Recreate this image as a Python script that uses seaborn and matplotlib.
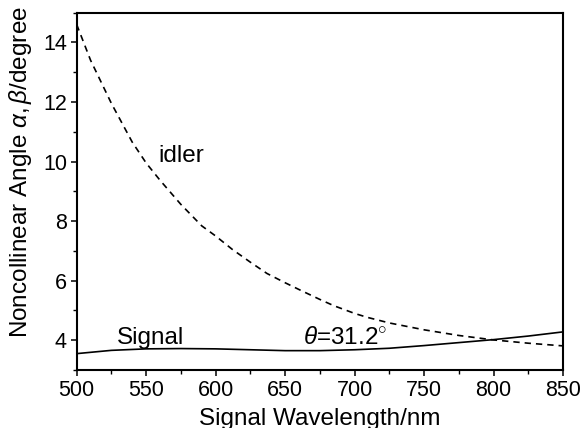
import matplotlib
matplotlib.use("Agg")
import matplotlib.pyplot as plt
import numpy as np
import pandas as pd
import seaborn as sns
from matplotlib.ticker import MultipleLocator

# values
signal_wl = [500, 525, 550, 575, 600, 625, 650, 675, 700, 725, 750, 775, 800, 825, 850]
signal_angle = [3.55, 3.66, 3.71, 3.72, 3.71, 3.68, 3.65, 3.65, 3.68, 3.73, 3.82, 3.92, 4.02, 4.14, 4.28]

idler_wl = [500, 510, 525, 540, 550, 560, 575, 590, 600, 612, 625, 637, 650, 661, 675, 685,
            700, 709, 725, 750, 775, 800, 825, 850]
idler_angle = [14.6, 13.4, 11.95, 10.65, 9.95, 9.37, 8.56, 7.84, 7.50, 7.05, 6.62, 6.24, 5.93, 5.68,
               5.37, 5.16, 4.90, 4.77, 4.58, 4.35, 4.16, 4.01, 3.90, 3.81]

sig = pd.DataFrame({"wl": signal_wl, "angle": signal_angle})
idl = pd.DataFrame({"wl": idler_wl, "angle": idler_angle})

sns.set_style("ticks")
plt.rcParams["font.family"] = ["Liberation Sans", "DejaVu Sans"]
plt.rcParams["mathtext.fontset"] = "custom"
plt.rcParams["mathtext.rm"] = "Liberation Sans"
plt.rcParams["mathtext.it"] = "Liberation Sans:italic"
plt.rcParams["text.color"] = "black"
plt.rcParams["axes.labelcolor"] = "black"
plt.rcParams["xtick.color"] = "black"
plt.rcParams["ytick.color"] = "black"
plt.rcParams["axes.edgecolor"] = "black"

fig = plt.figure(figsize=(5.81, 4.28), dpi=100)
ax = fig.add_axes([0.132, 0.1355, 0.837, 0.835])

sns.lineplot(data=sig, x="wl", y="angle", ax=ax, color="black", lw=1.2)
sns.lineplot(data=idl, x="wl", y="angle", ax=ax, color="black", lw=1.2,
             dashes=False, linestyle=(0, (3.8, 3)))

ax.set_xlim(500, 850)
ax.set_ylim(3, 15)
ax.xaxis.set_major_locator(MultipleLocator(50))
ax.xaxis.set_minor_locator(MultipleLocator(25))
ax.yaxis.set_minor_locator(MultipleLocator(1))
ax.set_yticks([4, 6, 8, 10, 12, 14])

ax.tick_params(which="major", direction="out", length=4, width=1.1, labelsize=15.5, pad=3,
               top=False, right=False)
ax.tick_params(which="minor", direction="out", length=3, width=1.0, top=False, right=False)
for s in ax.spines.values():
    s.set_linewidth(1.5)
    s.set_visible(True)

ax.set_xlabel("Signal Wavelength/nm", fontsize=17.5)
ax.set_ylabel(r"Noncollinear Angle $\alpha,\beta$/degree", fontsize=17.5)
ax.xaxis.set_label_coords(0.5, -0.105)
ax.yaxis.set_label_coords(-0.088, 0.555)

ax.text(575, 10.2, "idler", fontsize=17.5, ha="center", va="center")
ax.text(529, 3.88, "Signal", fontsize=17.5, ha="left", va="baseline")
ax.text(663, 3.88, r"$\theta$=31.2$^{\circ}$", fontsize=17.5, ha="left", va="baseline")

fig.savefig("out.png", dpi=100)
